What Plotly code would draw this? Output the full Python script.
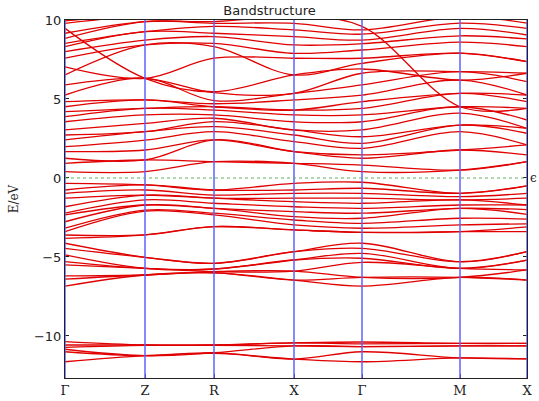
import plotly.graph_objects as go

# high-symmetry k-path
kpoint_labels = ["Γ", "Z", "R", "X", "Γ", "M", "X"]
kpoint_pos = [0.0, 0.80, 1.49, 2.29, 2.97, 3.95, 4.62]

# band energies (eV) read at the high-symmetry points  [Γ, Z, R, X, Γ, M, X]
semicore_bands = [
    [-10.36, -10.57, -10.57, -10.44, -10.38, -10.47, -10.47],
    [-10.57, -10.57, -10.57, -10.44, -10.50, -10.47, -10.47],
    [-10.72, -10.60, -10.60, -10.63, -10.67, -10.63, -10.63],
    [-10.84, -11.25, -11.06, -10.63, -10.67, -10.63, -10.63],
    [-11.00, -11.25, -11.06, -11.46, -11.00, -11.39, -11.45],
    [-11.63, -11.25, -11.10, -11.46, -11.63, -11.39, -11.45],
]

lower_valence_bands = [
    [-4.13, -5.02, -5.40, -4.66, -4.13, -5.30, -4.66],
    [-4.45, -5.02, -5.40, -4.66, -4.45, -5.30, -4.66],
    [-4.87, -5.72, -5.76, -5.19, -4.77, -5.72, -5.20],
    [-5.30, -5.72, -5.76, -5.19, -5.08, -5.72, -5.20],
    [-5.50, -5.72, -5.93, -5.89, -5.34, -5.72, -5.82],
    [-6.20, -6.14, -5.93, -5.89, -6.29, -6.29, -5.82],
    [-6.40, -6.14, -6.00, -6.46, -6.29, -6.29, -6.46],
    [-6.84, -6.14, -6.00, -6.46, -6.84, -6.29, -6.46],
]

upper_valence_bands = [
    [-0.34, -0.44, -0.76, -0.34, -0.27, -0.97, -0.50],
    [-0.76, -0.44, -0.76, -0.76, -0.65, -0.97, -0.50],
    [-0.97, -0.76, -1.08, -0.97, -0.97, -1.18, -0.97],
    [-1.28, -1.08, -1.28, -1.28, -1.28, -1.39, -1.28],
    [-1.82, -1.08, -1.28, -1.50, -1.60, -1.39, -1.71],
    [-2.23, -1.39, -1.60, -1.82, -1.92, -1.71, -1.71],
    [-2.34, -1.71, -1.92, -2.13, -2.23, -1.92, -2.00],
    [-2.77, -1.71, -1.92, -2.45, -2.55, -1.92, -2.30],
    [-3.18, -2.03, -2.23, -2.66, -2.87, -2.55, -2.60],
    [-3.40, -2.10, -2.34, -2.97, -3.18, -2.97, -2.90],
    [-3.61, -3.60, -3.08, -3.29, -3.44, -3.40, -3.10],
    [-3.82, -3.60, -3.08, -3.29, -3.44, -3.40, -3.40],
]

conduction_bands = [
    [0.40, 0.40, 1.03, 0.93, 0.40, 0.50, 1.03],
    [0.93, 1.14, 1.03, 0.93, 0.82, 0.50, 1.03],
    [1.25, 1.14, 2.41, 1.67, 1.25, 1.77, 1.46],
    [1.67, 1.77, 2.41, 1.67, 1.46, 1.77, 2.09],
    [1.98, 2.40, 2.93, 2.30, 1.88, 2.93, 2.09],
    [2.41, 2.93, 3.25, 2.72, 2.19, 3.35, 2.83],
    [2.72, 2.93, 3.57, 3.04, 2.61, 3.35, 3.14],
    [3.04, 3.46, 3.78, 3.04, 3.04, 4.10, 3.14],
    [3.56, 3.99, 3.99, 3.56, 3.56, 4.51, 3.67],
    [3.88, 4.41, 4.30, 3.99, 3.99, 4.51, 4.41],
    [4.20, 4.41, 4.51, 4.30, 4.41, 5.36, 4.83],
    [4.51, 4.94, 4.51, 4.30, 4.83, 5.36, 5.25],
    [4.83, 4.94, 4.70, 4.94, 5.25, 6.20, 5.25],
    [5.25, 6.31, 4.90, 5.36, 5.89, 6.73, 6.10],
    [5.89, 6.31, 5.40, 5.36, 6.63, 6.73, 6.63],
    [6.52, 8.42, 8.31, 6.52, 7.26, 7.90, 7.36],
    [7.04, 6.31, 7.58, 7.58, 7.58, 7.90, 7.36],
    [7.58, 8.42, 8.52, 7.89, 8.10, 8.60, 8.31],
    [8.00, 8.73, 8.95, 8.42, 8.50, 9.00, 8.80],
    [8.31, 9.26, 9.16, 8.95, 8.73, 9.47, 9.05],
    [8.52, 9.26, 9.60, 9.37, 9.10, 9.80, 9.47],
    [8.84, 9.90, 9.79, 9.79, 9.37, 10.20, 9.80],
    [9.16, 9.90, 9.90, 10.20, 9.60, 4.51, 4.41],
    [9.47, 6.31, 5.46, 6.52, 6.90, 6.20, 6.63],
    [9.79, 10.30, 10.50, 10.40, 10.20, 10.40, 10.20],
    [9.95, 10.30, 10.30, 10.60, 10.50, 10.60, 10.50],
]

all_bands = semicore_bands + lower_valence_bands + upper_valence_bands + conduction_bands

y_range = [-12.66, 10.0]
y_ticks = [-10, -5, 0, 5, 10]
y_tick_text = ["\u221210", "\u22125", "0", "5", "10"]

fig = go.Figure()
for band in all_bands:
    fig.add_trace(go.Scatter(
        x=kpoint_pos, y=band, mode="lines",
        line=dict(color="#e00000", width=1.3, shape="spline", smoothing=1.0),
        hoverinfo="skip", showlegend=False,
    ))

# vertical high-symmetry lines
for xp in kpoint_pos:
    fig.add_shape(type="line", xref="x", yref="paper", x0=xp, x1=xp, y0=0, y1=1,
                  line=dict(color="#6060ff", width=1.5), layer="above")
# Fermi level
fig.add_shape(type="line", xref="paper", yref="y", x0=0, x1=1, y0=0, y1=0,
              line=dict(color="#60b060", width=1, dash="dot"), layer="above")

fig.add_annotation(text="ϵ", xref="paper", yref="y", x=1.0, y=0, xanchor="left",
                   xshift=1, showarrow=False,
                   font=dict(family="DejaVu Serif", size=12, color="#222"))

fig.update_layout(
    width=539, height=401,
    margin=dict(l=65, r=12, t=20, b=23),
    paper_bgcolor="white", plot_bgcolor="white",
    title=dict(text="Bandstructure", x=0.5, xanchor="center", y=0.985, yanchor="top",
               font=dict(family="DejaVu Sans", size=13, color="#222")),
    xaxis=dict(range=[kpoint_pos[0], kpoint_pos[-1]], tickmode="array",
               tickvals=kpoint_pos, ticktext=kpoint_labels, automargin=False,
               showgrid=False, zeroline=False, showline=True, mirror=True,
               linecolor="#222", linewidth=1, ticks="inside", ticklen=4,
               tickcolor="#222",
               tickfont=dict(family="DejaVu Serif", size=13, color="#222")),
    yaxis=dict(range=y_range, tickmode="array", tickvals=y_ticks, ticktext=y_tick_text,
               automargin=False,
               showgrid=False, zeroline=False, showline=True, mirror="ticks",
               linecolor="#222", linewidth=1, ticks="inside", ticklen=4,
               tickcolor="#222",
               tickfont=dict(family="DejaVu Sans", size=13, color="#222"),
               title=dict(text="E/eV", standoff=12,
                          font=dict(family="DejaVu Serif", size=12, color="#222"))),
)

fig.write_html("out.html", config={"displayModeBar": False},
               post_script="document.body.style.margin='0';document.body.style.overflow='hidden';")
